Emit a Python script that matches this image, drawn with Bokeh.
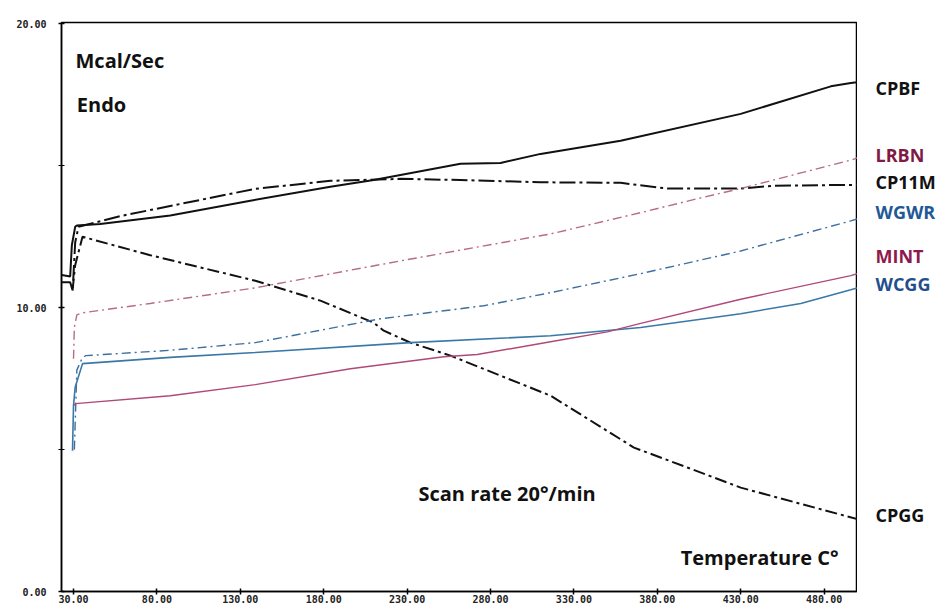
from bokeh.plotting import figure
from bokeh.layouts import row
from bokeh.models import Range1d, FixedTicker, PrintfTickFormatter, Label
from bokeh.core.properties import value
from bokeh.embed import file_html
from bokeh.resources import INLINE

# ---- data ----
x_ticks = [30, 80, 130, 180, 230, 280, 330, 380, 430, 480]
y_ticks = [0, 10, 20]
y_minor = [5, 15]

cpbf_t = [23, 28, 29, 31, 32, 46, 88, 136, 184, 210, 262, 286, 310, 358, 430, 484, 496, 500]
cpbf_v = [11.15, 11.1, 12.2, 12.85, 12.9, 12.95, 13.25, 13.77, 14.26, 14.5, 15.07, 15.1, 15.42, 15.88, 16.83, 17.8, 17.92, 17.95]

cp11m_t = [23, 28, 29.5, 31, 33, 59, 139, 184, 226, 262, 310, 358, 386, 430, 450, 500]
cp11m_v = [10.9, 10.9, 10.6, 12.3, 12.85, 13.24, 14.19, 14.47, 14.54, 14.5, 14.42, 14.4, 14.2, 14.2, 14.3, 14.33]

cpgg_t = [29.4, 31, 35.4, 76, 139, 178, 210, 216, 232, 256, 316, 366, 398, 430, 500]
cpgg_v = [10.6, 11.5, 12.5, 11.85, 10.95, 10.25, 9.47, 9.19, 8.77, 8.31, 6.9, 5.07, 4.37, 3.66, 2.55]

lrbn_t = [30, 30.5, 32, 35.4, 76, 139, 226, 316, 370, 406, 430, 466, 496, 500]
lrbn_v = [8.2, 9.3, 9.75, 9.82, 10.15, 10.7, 11.65, 12.6, 13.35, 13.87, 14.2, 14.75, 15.2, 15.28]

wgwr_t = [30.5, 32, 35, 37.2, 88, 139, 214, 276, 316, 370, 430, 496, 500]
wgwr_v = [5.0, 7.8, 8.2, 8.31, 8.5, 8.77, 9.61, 10.07, 10.53, 11.2, 12.0, 13.06, 13.13]

wcgg_t = [29.4, 30, 31, 35.4, 88, 139, 232, 316, 370, 430, 466, 496, 500]
wcgg_v = [4.96, 6.55, 7.2, 8.03, 8.25, 8.42, 8.77, 9.01, 9.3, 9.79, 10.15, 10.63, 10.7]

mint_t = [30, 31.2, 88, 139, 196, 252, 272, 316, 350, 370, 430, 496, 500]
mint_v = [6.55, 6.62, 6.9, 7.29, 7.85, 8.27, 8.35, 8.8, 9.15, 9.45, 10.3, 11.13, 11.2]

series_names = ["CPBF", "LRBN", "CP11M", "WGWR", "MINT", "WCGG", "CPGG"]
series_end = [17.75, 15.39, 14.44, 13.38, 11.83, 10.85, 2.71]   # label heights at the right edge
series_label_colors = ["#111111", "#7e1a44", "#111111", "#1f5a96", "#8e1a4c", "#1f4f8c", "#111111"]

H = 606
TOP = 22
BOTTOM = 15
TXT_FONT = "Open Sans"
TICK_FONT = "DejaVu Sans Mono"

y_range = Range1d(0, 20.05)

# ---- main figure ----
p = figure(width=857, height=H, x_range=Range1d(22.8, 500), y_range=y_range,
           output_backend="svg", toolbar_location=None,
           min_border_left=61, min_border_right=0, min_border_top=TOP, min_border_bottom=BOTTOM)
p.xgrid.visible = False
p.ygrid.visible = False
p.outline_line_color = "black"
p.outline_line_width = 1.5

p.xaxis.ticker = FixedTicker(ticks=x_ticks)
p.yaxis.ticker = FixedTicker(ticks=y_ticks, minor_ticks=y_minor)

def style_axis(ax):
    ax.axis_line_color = "black"
    ax.axis_line_width = 1.5
    ax.major_tick_in = 3
    ax.major_tick_out = 3
    ax.major_tick_line_width = 1.5
    ax.major_label_text_font = TICK_FONT
    ax.major_label_text_font_style = "bold"
    ax.major_label_text_color = "#222222"
    ax.major_label_text_font_size = "10px"
    ax.axis_label_standoff = 0

for ax in (p.xaxis[0], p.yaxis[0]):
    ax.formatter = PrintfTickFormatter(format="%.2f")
    style_axis(ax)
p.xaxis.minor_tick_in = 0
p.xaxis.minor_tick_out = 0
p.yaxis.minor_tick_in = 3
p.yaxis.minor_tick_out = 3
p.xaxis.major_label_standoff = 0
p.yaxis.major_label_standoff = 12
p.xaxis.major_label_text_align = "left"

# ---- curves ----
p.line(cpbf_t, cpbf_v, line_color="#111111", line_width=2)
p.line(cp11m_t, cp11m_v, line_color="#111111", line_width=2, line_dash="16 4 3 4")
p.line(cpgg_t, cpgg_v, line_color="#111111", line_width=2, line_dash="12 4 3 4")
p.line(lrbn_t, lrbn_v, line_color="#b86a8c", line_width=1.4, line_dash="9 4 2 4")
p.line(wgwr_t, wgwr_v, line_color="#3f6f9f", line_width=1.4, line_dash="9 4 2 4")
p.line(wcgg_t, wcgg_v, line_color="#3a78a8", line_width=1.6)
p.line(mint_t, mint_v, line_color="#b04878", line_width=1.4)

# ---- texts inside the frame ----
def lab(x, y, text, size):
    p.add_layout(Label(x=x, y=y, text=text, text_font=TXT_FONT,
                       text_font_style="bold", text_font_size=size,
                       text_color="#111111", text_baseline="middle", text_align="left"))

lab(31.2, 18.7, "Mcal/Sec", "20px")
lab(32.0, 17.15, "Endo", "20px")
lab(236.8, 3.45, "Scan rate 20\u00b0/min", "20px")
lab(394.0, 1.2, "Temperature C\u00b0", "20px")

# ---- right-hand label strip (shares the y scale) ----
side_w = 946 - 857
q = figure(width=side_w, height=H, x_range=Range1d(0, side_w), y_range=y_range,
           output_backend="svg", toolbar_location=None,
           min_border_left=0, min_border_right=0, min_border_top=TOP, min_border_bottom=BOTTOM)
q.xgrid.visible = False
q.ygrid.visible = False
q.outline_line_color = None
q.yaxis.visible = False
q.xaxis.ticker = FixedTicker(ticks=[40])
style_axis(q.xaxis[0])
q.xaxis.major_label_standoff = 0
q.xaxis.axis_line_color = None
q.xaxis.major_tick_line_color = None
q.xaxis.minor_tick_line_color = None
q.xaxis.major_label_text_color = None
q.text(x=[18] * len(series_names), y=series_end, text=series_names,
       text_color=series_label_colors, text_font=value(TXT_FONT),
       text_font_style="bold", text_font_size="18px",
       text_baseline="middle", text_align="left")

layout = row(p, q)
open("out.html", "w").write(file_html(layout, INLINE))
